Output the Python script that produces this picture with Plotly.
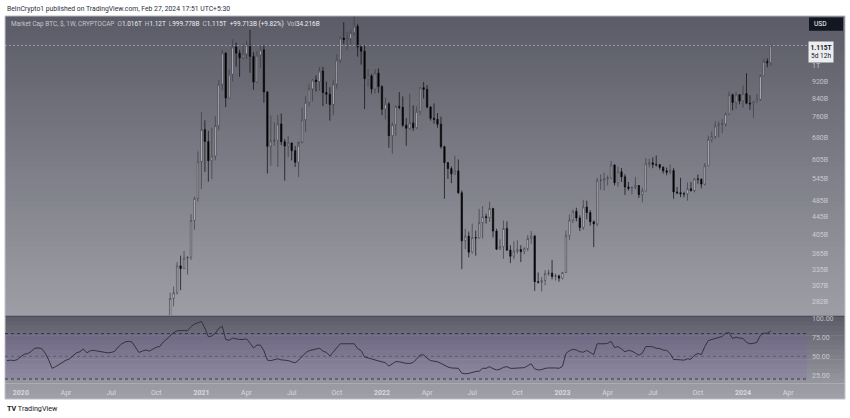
import math
import pandas as pd
import plotly.graph_objects as go

W, H = 850, 418

# ---------------- data (market cap, billions USD, weekly candles) ----------------
week_start = "2020-10-26"
opens = [242, 256, 287, 296, 342, 337, 356, 358, 436, 491,
         598, 710, 666, 601, 616, 725, 905, 1071, 841, 955, 1106, 1070, 1043, 1065, 1117, 1051, 916, 1058, 1089, 869,
         649, 668, 670, 732, 665, 650, 661, 634, 596, 664, 748, 822, 883, 926, 918, 972, 866, 858, 812, 907,
         1031, 1160, 1150, 1156, 1194, 1236, 1106, 1081, 933, 947, 883, 961,
         894, 792, 815, 687, 729, 804, 800, 727, 715, 736, 717, 783, 889, 881, 801, 754, 750, 731, 648, 595,
         576, 560, 569, 506, 391, 401, 368, 398, 397, 431, 445, 443, 465, 412, 374, 379, 418, 372, 360, 370,
         373, 369, 375, 396, 401, 314, 313, 316, 328, 329, 323, 324,
         320, 330, 402, 437, 458, 442, 420, 469, 455, 433, 428, 541, 541, 545, 548, 587, 534, 566, 551, 522,
         518, 521, 526, 501, 511, 591, 594, 589, 588, 580, 569, 565, 570, 508, 506, 503, 503, 517, 512, 545,
         544, 530, 585, 674, 684, 724, 730, 732, 772, 856, 821, 856,
         828, 861, 818, 815, 824, 835, 948, 1023, 1016]
highs = [261, 296, 306, 349, 361, 370, 360, 451, 496, 632,
         780, 746, 705, 717, 763, 926, 1088, 1072, 981, 1152, 1132, 1090, 1124, 1143, 1212, 1075, 1083, 1114, 1115, 873,
         766, 739, 767, 774, 675, 686, 662, 650, 647, 799, 850, 904, 930, 949, 994, 994, 918, 891, 927, 1065,
         1169, 1263, 1201, 1213, 1302, 1252, 1119, 1116, 982, 956, 981, 985,
         900, 842, 823, 738, 808, 868, 848, 755, 861, 808, 805, 891, 916, 901, 806, 817, 776, 761, 651, 596,
         583, 617, 605, 512, 417, 411, 429, 413, 464, 471, 452, 482, 467, 417, 394, 436, 434, 382, 390, 392,
         382, 378, 403, 412, 404, 330, 322, 334, 335, 353, 328, 326,
         331, 413, 450, 462, 467, 448, 487, 485, 461, 436, 548, 558, 564, 555, 600, 590, 582, 578, 559, 536,
         522, 551, 527, 520, 609, 607, 612, 618, 591, 583, 579, 588, 578, 522, 548, 509, 535, 536, 546, 558,
         547, 593, 687, 703, 742, 742, 751, 778, 870, 861, 869, 858,
         899, 961, 854, 828, 860, 953, 1036, 1040, 1120]
lows = [237, 245, 275, 293, 300, 336, 326, 353, 415, 483,
        516, 566, 537, 544, 602, 708, 877, 801, 839, 919, 995, 942, 1036, 1037, 963, 879, 913, 989, 820, 561,
        585, 652, 581, 653, 540, 613, 602, 581, 550, 660, 701, 803, 826, 871, 874, 805, 815, 745, 767, 884,
        1015, 1123, 1090, 1121, 1176, 1050, 1006, 793, 894, 861, 862, 864,
        767, 750, 644, 624, 687, 791, 720, 651, 710, 705, 713, 769, 839, 796, 745, 733, 717, 641, 490, 545,
        533, 557, 503, 336, 374, 358, 365, 361, 396, 396, 429, 433, 398, 372, 373, 355, 370, 347, 354, 365,
        349, 364, 370, 385, 299, 311, 298, 308, 324, 318, 316, 314,
        318, 329, 393, 430, 434, 412, 415, 439, 424, 378, 423, 514, 512, 526, 545, 526, 522, 536, 500, 512,
        502, 516, 492, 481, 510, 580, 577, 582, 573, 561, 556, 559, 490, 502, 494, 494, 485, 509, 507, 531,
        518, 526, 584, 663, 675, 680, 697, 721, 769, 787, 794, 813,
        798, 813, 789, 756, 820, 829, 946, 992, 999.778]
closes = [256, 287, 296, 342, 337, 356, 358, 436, 491, 598,
          710, 666, 601, 616, 725, 905, 1071, 841, 955, 1106, 1070, 1043, 1065, 1117, 1051, 916, 1058, 1089, 869, 649,
          668, 670, 732, 665, 650, 661, 634, 596, 664, 748, 822, 883, 926, 918, 972, 866, 858, 812, 907, 1031,
          1160, 1150, 1156, 1194, 1236, 1106, 1081, 933, 947, 883, 961, 894,
          792, 815, 687, 729, 804, 800, 727, 715, 736, 717, 783, 889, 881, 801, 754, 750, 731, 648, 595, 576,
          560, 569, 506, 391, 401, 368, 398, 397, 431, 445, 443, 465, 412, 374, 379, 418, 372, 360, 370, 373,
          369, 375, 396, 401, 314, 313, 316, 328, 329, 323, 324, 320,
          330, 402, 437, 458, 442, 420, 469, 455, 433, 428, 541, 541, 545, 548, 587, 534, 566, 551, 522, 518,
          521, 526, 501, 511, 591, 594, 589, 588, 580, 569, 565, 570, 508, 506, 503, 503, 517, 512, 545, 544,
          530, 585, 674, 684, 724, 730, 732, 772, 856, 821, 856, 828,
          861, 818, 815, 824, 835, 948, 1023, 1016, 1115]

# RSI (weekly) values
rsi_start = "2019-12-09"
rsi_values = [44.4, 44.9, 44.4, 45.7, 49.6, 52.8, 53.7, 56.5, 60.6, 61.1,
              60.2, 54.2, 45.3, 34.1, 36.3, 39.3, 42.3, 44.9, 46.6, 50.9,
              54.6, 56.0, 59.7, 54.6, 57.4, 57.8, 56.9, 55.5, 54.6, 54.6,
              55.1, 56.5, 62.0, 66.2, 68.9, 69.8, 68.9, 61.5, 55.1, 56.9,
              58.3, 56.9, 59.2, 62.0, 62.9, 68.9, 72.6, 76.8, 81.4, 83.7,
              84.1, 84.1, 83.7, 89.2, 92.5, 94.8, 96.1, 87.4, 75.8, 76.8,
              80.5, 86.9, 89.7, 72.2, 71.2, 74.0, 72.6, 72.2, 72.2, 73.1,
              67.5, 61.1, 64.8, 64.8, 57.4, 44.9, 44.4, 45.3, 46.6, 45.3,
              44.9, 44.4, 42.7, 41.4, 44.9, 49.6, 54.6, 57.4, 58.8, 59.7,
              60.6, 56.9, 55.1, 50.5, 55.5, 61.5, 66.6, 66.6, 66.6, 67.5,
              66.6, 60.2, 57.4, 49.1, 47.9, 47.0, 45.3, 43.6, 42.7, 41.4,
              37.1, 39.7, 43.1, 42.7, 41.4, 40.6, 40.6, 41.9, 46.6, 51.8,
              51.8, 47.4, 44.4, 43.6, 42.7, 40.6, 38.0, 35.9, 34.6, 34.1,
              34.1, 27.7, 26.9, 27.3, 29.0, 29.9, 30.3, 34.1, 34.1, 36.3,
              33.7, 32.0, 32.9, 35.4, 36.3, 34.1, 34.1, 34.6, 35.0, 35.0,
              37.6, 40.1, 33.3, 32.0, 32.4, 34.1, 34.6, 35.0, 34.6, 34.1,
              36.7, 53.7, 57.4, 59.2, 58.3, 56.0, 55.5, 57.8, 55.5, 52.3,
              66.6, 66.2, 66.6, 67.1, 69.8, 61.5, 62.9, 59.7, 56.0, 57.8,
              56.9, 54.2, 51.4, 54.2, 62.9, 62.9, 62.5, 60.6, 60.2, 58.3,
              57.8, 53.7, 45.7, 45.7, 45.3, 44.9, 46.6, 46.1, 51.4, 53.7,
              52.3, 62.9, 70.8, 72.2, 74.5, 75.8, 76.3, 80.5, 81.4, 73.5,
              75.4, 74.0, 73.5, 68.5, 66.6, 67.1, 68.5, 77.7, 80.5, 80.5, 83.7]
rsi_bands = [80, 50, 20]

# axis ticks
price_ticks = [1000, 920, 840, 760, 680, 605, 545, 485, 445, 405, 365, 335, 307, 282]
price_tick_text = ["1T", "920B", "840B", "760B", "680B", "605B", "545B", "485B",
                   "445B", "405B", "365B", "335B", "307B", "282B"]
rsi_ticks = [100, 75, 50, 25]
rsi_tick_text = ["100.00", "75.00", "50.00", "25.00"]
time_tick_dates = ["2020-01-06", "2020-04-06", "2020-07-06", "2020-10-05",
                   "2021-01-04", "2021-04-05", "2021-07-05", "2021-10-04",
                   "2022-01-03", "2022-04-04", "2022-07-04", "2022-10-03",
                   "2023-01-02", "2023-04-03", "2023-07-03", "2023-10-02",
                   "2024-01-01", "2024-04-01"]
time_tick_labels = ["2020", "Apr", "Jul", "Oct", "2021", "Apr", "Jul", "Oct",
                    "2022", "Apr", "Jul", "Oct", "2023", "Apr", "Jul", "Oct",
                    "2024", "Apr"]

x_range = ["2019-12-05", "2024-05-09"]
price_range = [262, 1306]
rsi_range = [14.5, 102.6]

legend_name = "Market Cap BTC, $, 1W, CRYPTOCAP"
legend_fields = [("O", "1.016T"), ("H", "1.12T"), ("L", "999.778B"), ("C", "1.115T"),
                 ("", "+99.713B (+9.82%)"), ("Vol", "34.216B")]
last_label = "1.115T"
countdown = "5d 12h"
header = "BeInCrypto1 published on TradingView.com, Feb 27, 2024 17:51 UTC+5:30"

# ---------------- figure ----------------
dates = pd.date_range(week_start, periods=len(closes), freq="7D")
rsi_dates = pd.date_range(rsi_start, periods=len(rsi_values), freq="7D")

FONT = "Roboto, Arial, sans-serif"


def px(x):
    return x / W


def py(y):
    return 1 - y / H


def hexmix(c0, c1, t):
    return "rgb(%d,%d,%d)" % tuple(round(a + (b - a) * t) for a, b in zip(c0, c1))


shapes = []


def gradient(y0, y1, c0, c1, n, x0=5, x1=845):
    step = (y1 - y0) / n
    for i in range(n):
        ya = y0 + i * step
        yb = min(y1, ya + step + 0.6)
        shapes.append(dict(type="rect", xref="paper", yref="paper", layer="below",
                           x0=px(x0), x1=px(x1), y0=py(yb), y1=py(ya),
                           fillcolor=hexmix(c0, c1, (i + 0.5) / n), line=dict(width=0)))


gradient(14, 315.5, (90, 91, 102), (158, 159, 166), 60)
gradient(315.5, 383, (92, 92, 104), (150, 151, 159), 14)
gradient(383, 399, (152, 153, 161), (160, 161, 168), 3)

# pane separator
shapes.append(dict(type="line", xref="paper", yref="paper", layer="below",
                   x0=px(5), x1=px(845), y0=py(315.8), y1=py(315.8),
                   line=dict(color="#4a4b55", width=1.2)))
# outer frame
shapes.append(dict(type="rect", xref="paper", yref="paper", layer="below",
                   x0=px(5), x1=px(845), y0=py(399), y1=py(14),
                   line=dict(color="#c4c5cb", width=1), fillcolor="rgba(0,0,0,0)"))
# RSI background fill between bands
shapes.append(dict(type="rect", xref="paper", yref="y2", layer="below",
                   x0=px(5), x1=px(807), y0=rsi_bands[2], y1=rsi_bands[0],
                   fillcolor="rgba(126,87,194,0.16)", line=dict(width=0)))
for b, col in zip(rsi_bands, ["#34343f", "#5c5c6a", "#34343f"]):
    shapes.append(dict(type="line", xref="paper", yref="y2", layer="below",
                       x0=px(5), x1=px(807), y0=b, y1=b,
                       line=dict(color=col, width=1, dash="3px,3px")))
# USD box
shapes.append(dict(type="rect", xref="paper", yref="paper", layer="above",
                   x0=px(809), x1=px(843), y0=py(29), y1=py(15.5),
                   fillcolor="#131722", line=dict(width=0)))

fig = go.Figure()
fig.add_trace(go.Scatter(x=x_range, y=[closes[-1], closes[-1]], xaxis="x", yaxis="y",
                         mode="lines", line=dict(color="rgba(200,201,210,0.55)", width=1, dash="2px,2px"),
                         hoverinfo="skip", showlegend=False))
fig.add_trace(go.Candlestick(
    x=dates, open=opens, high=highs, low=lows, close=closes,
    xaxis="x", yaxis="y", whiskerwidth=0,
    increasing=dict(line=dict(color="#3b3c46", width=0.7), fillcolor="#f4f4f6"),
    decreasing=dict(line=dict(color="#0a0a0d", width=0.7), fillcolor="#000000"),
    hoverinfo="skip", showlegend=False))
fig.add_trace(go.Scatter(x=rsi_dates, y=rsi_values, xaxis="x2", yaxis="y2", mode="lines",
                         line=dict(color="#33333e", width=1), hoverinfo="skip", showlegend=False))

tick_font = dict(family=FONT, size=7, color="rgba(228,229,236,0.72)")
time_text = [("<b>%s</b>" % t if t[0].isdigit() else t) for t in time_tick_labels]

fig.update_layout(
    width=W, height=H, margin=dict(l=0, r=0, t=0, b=0),
    paper_bgcolor="white", plot_bgcolor="rgba(0,0,0,0)",
    showlegend=False, hovermode=False, boxgap=0.45,
    font=dict(family=FONT),
    shapes=shapes,
    xaxis=dict(domain=[px(5), px(807)], anchor="y", type="date", range=x_range,
               showticklabels=False, showgrid=False, zeroline=False, showline=False,
               rangeslider=dict(visible=False), fixedrange=True),
    xaxis2=dict(domain=[px(5), px(807)], anchor="y2", type="date", matches="x", range=x_range,
                tickmode="array", tickvals=time_tick_dates, ticktext=time_text,
                tickfont=dict(family=FONT, size=7, color="rgba(232,233,240,0.78)"),
                ticks="", ticklabelstandoff=4, showgrid=False, zeroline=False, showline=False),
    yaxis=dict(domain=[py(315), py(14)], anchor="x", type="log",
               range=[math.log10(price_range[0]), math.log10(price_range[1])],
               side="right", tickmode="array", tickvals=price_ticks, ticktext=price_tick_text,
               tickfont=tick_font, ticks="", ticklabelstandoff=4,
               showgrid=False, zeroline=False, showline=False),
    yaxis2=dict(domain=[py(383), py(316)], anchor="x2", range=rsi_range,
                side="right", tickmode="array", tickvals=rsi_ticks, ticktext=rsi_tick_text,
                tickfont=tick_font, ticks="", ticklabelstandoff=4,
                showgrid=False, zeroline=False, showline=False),
)

legend_parts = ['<span style="color:#c3c4cc">%s</span>' % legend_name]
for k, v in legend_fields:
    legend_parts.append('<span style="color:#c3c4cc">%s</span><span style="color:#eeeef2">%s</span>' % (k, v))
legend_html = "  ".join(legend_parts)

annotations = [
    dict(text=header, x=px(5), y=py(7.5), xref="paper", yref="paper", xanchor="left",
         yanchor="middle", showarrow=False, font=dict(family=FONT, size=6.8, color="#2a2e39")),
    dict(text=legend_html, x=px(9), y=py(22.5), xref="paper", yref="paper", xanchor="left",
         yanchor="middle", showarrow=False, font=dict(family=FONT, size=6.4)),
    dict(text="USD", x=px(812), y=py(22.3), xref="paper", yref="paper", xanchor="left",
         yanchor="middle", showarrow=False, font=dict(family=FONT, size=6.6, color="#ffffff")),
    dict(text="<b>%s</b><br>%s" % (last_label, countdown), x=px(807.5), y=math.log10(closes[-1]),
         xref="paper", yref="y", xanchor="left", yanchor="top", yshift=4, showarrow=False,
         align="center", bgcolor="#ecedf0", borderpad=1.5,
         font=dict(family=FONT, size=6.6, color="#131722")),
    dict(text="<b>TV</b> TradingView", x=px(5), y=py(408), xref="paper", yref="paper",
         xanchor="left", yanchor="middle", showarrow=False,
         font=dict(family=FONT, size=7.2, color="#131722")),
]
fig.update_layout(annotations=annotations)

fig.write_html("out.html", config={"displayModeBar": False},
               post_script="document.body.style.margin='0';document.body.style.padding='0';")
